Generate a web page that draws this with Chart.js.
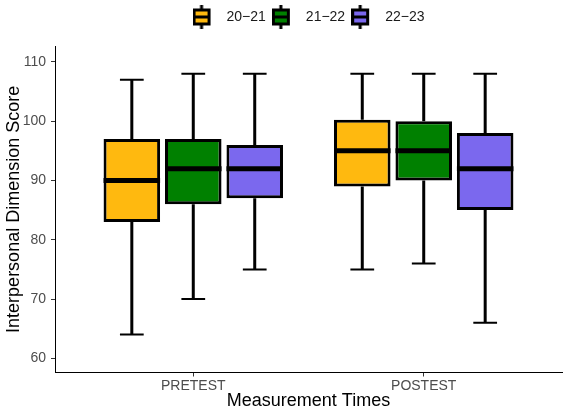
<!DOCTYPE html>
<html><head><meta charset="utf-8">
<script src="https://cdn.jsdelivr.net/npm/chart.js@4"></script>
<style>html,body{margin:0;padding:0;background:#fff}#wrap{width:567px;height:412px}</style>
</head><body><div id="wrap"><canvas id="c" width="567" height="412"></canvas></div>
<script>
// ---- data ----
const categories = ['PRETEST', 'POSTEST'];
const seriesNames = ['20\u221221', '21\u221222', '22\u221223'];
// per category: [lower whisker, Q1, median, Q3, upper whisker]
const stats2021 = [[64, 83, 90, 97, 107], [75, 89, 95, 100.25, 108]];
const stats2122 = [[70, 86, 92, 97, 108], [76, 90, 95, 100, 108]];
const stats2223 = [[75, 87, 92, 96, 108], [66, 85, 92, 98, 108]];
const yTicks = [60, 70, 80, 90, 100, 110];

// ---- styles ----
const seriesStats = [stats2021, stats2122, stats2223];
const seriesColors = ['#FFB90F', '#008000', '#7B68EE'];
const FONT = 'Liberation Sans, Arial, sans-serif';

function legendGlyph(color) {
  const cv = document.createElement('canvas');
  cv.width = 27; cv.height = 24;
  const g = cv.getContext('2d');
  g.fillStyle = '#000';
  g.fillRect(7.5, 0, 3, 24);
  g.fillRect(0, 3.5, 18, 17);
  g.fillStyle = color;
  g.fillRect(3, 6.5, 12, 11);
  g.fillStyle = '#000';
  g.fillRect(3, 10.5, 12, 3);
  return cv;
}

const boxParts = {
  id: 'boxParts',
  beforeDatasetsDraw(chart) {
    const ctx = chart.ctx, ys = chart.scales.y;
    ctx.save();
    ctx.strokeStyle = '#000';
    seriesStats.forEach((st, d) => {
      const meta = chart.getDatasetMeta(d);
      meta.data.forEach((el, i) => {
        const s = st[i];
        const x = el.x, w = el.width;
        ctx.lineWidth = 3;
        ctx.lineCap = 'butt';
        ctx.beginPath();
        ctx.moveTo(x, ys.getPixelForValue(s[3]));
        ctx.lineTo(x, ys.getPixelForValue(s[4]));
        ctx.moveTo(x, ys.getPixelForValue(s[1]));
        ctx.lineTo(x, ys.getPixelForValue(s[0]));
        ctx.stroke();
        const cw = w * 0.42;
        ctx.lineWidth = 2;
        ctx.beginPath();
        ctx.moveTo(x - cw / 2, ys.getPixelForValue(s[4]));
        ctx.lineTo(x + cw / 2, ys.getPixelForValue(s[4]));
        ctx.moveTo(x - cw / 2, ys.getPixelForValue(s[0]));
        ctx.lineTo(x + cw / 2, ys.getPixelForValue(s[0]));
        ctx.stroke();
      });
    });
    ctx.restore();
  },
  afterDatasetsDraw(chart) {
    const ctx = chart.ctx, ys = chart.scales.y;
    ctx.save();
    ctx.strokeStyle = '#000';
    ctx.lineWidth = 5;
    seriesStats.forEach((st, d) => {
      const meta = chart.getDatasetMeta(d);
      meta.data.forEach((el, i) => {
        const y = ys.getPixelForValue(st[i][2]);
        ctx.beginPath();
        ctx.moveTo(el.x - el.width / 2, y);
        ctx.lineTo(el.x + el.width / 2, y);
        ctx.stroke();
      });
    });
    ctx.restore();
  }
};

const datasets = seriesNames.map((name, d) => ({
  label: name,
  data: categories.map((c, i) => ({ x: i + 1, y: [seriesStats[d][i][1], seriesStats[d][i][3]] })),
  backgroundColor: seriesColors[d],
  borderColor: '#000',
  borderWidth: 3,
  borderSkipped: false,
  categoryPercentage: 0.8,
  barPercentage: 0.92,
  pointStyle: legendGlyph(seriesColors[d])
}));

new Chart(document.getElementById('c'), {
  type: 'bar',
  data: { datasets },
  plugins: [boxParts],
  options: {
    responsive: false,
    animation: false,
    events: [],
    layout: { padding: { top: 4, right: 5, bottom: 0, left: 0 } },
    plugins: {
      legend: {
        position: 'top',
        fullSize: false,
        labels: {
          usePointStyle: true,
          pointStyleWidth: 27,
          padding: 6,
          color: '#1a1a1a',
          font: { family: FONT, size: 14 }
        }
      },
      title: { display: true, text: '', weight: 500, fullSize: false, padding: { top: 11, bottom: 0 }, font: { size: 1 } },
      tooltip: { enabled: false }
    },
    scales: {
      x: {
        type: 'linear',
        min: 0.4, max: 2.6,
        offset: false,
        bounds: 'data',
        afterBuildTicks: (s) => { s.ticks = categories.map((c, i) => ({ value: i + 1 })); },
        afterFit: (s) => { s.height = 39.5; },
        ticks: {
          callback: (v) => categories[Math.round(v) - 1] || '',
          color: '#4d4d4d', font: { family: FONT, size: 14 }, padding: 1, maxRotation: 0
        },
        grid: { display: true, offset: false, drawOnChartArea: false, drawTicks: true, tickLength: 4, tickColor: '#333' },
        border: { display: true, color: '#000', width: 1 },
        title: { display: true, text: 'Measurement Times', color: '#000', font: { family: FONT, size: 18 }, padding: { top: 0, bottom: 0 } }
      },
      y: {
        type: 'linear',
        min: 57.6, max: 112.66,
        afterBuildTicks: (s) => { s.ticks = yTicks.map(v => ({ value: v })); },
        afterFit: (s) => { s.width = 55; },
        ticks: { color: '#4d4d4d', font: { family: FONT, size: 14 }, padding: 5 },
        grid: { display: true, drawOnChartArea: false, drawTicks: true, tickLength: 4, tickColor: '#333' },
        border: { display: true, color: '#000', width: 1 },
        title: { display: true, text: 'Interpersonal Dimension Score', color: '#000', font: { family: FONT, size: 18 }, padding: { top: 3, bottom: 0 } }
      }
    }
  }
});
</script></body></html>
